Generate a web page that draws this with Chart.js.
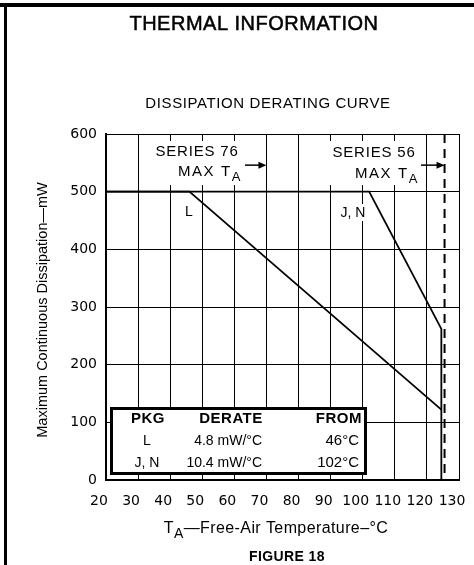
<!DOCTYPE html>
<html>
<head>
<meta charset="utf-8">
<script src="https://cdn.jsdelivr.net/npm/chart.js@4.4.1/dist/chart.umd.min.js"></script>
<style>
  body { margin: 0; background: #fff; }
  #wrap { width: 474px; height: 565px; }
</style>
</head>
<body>
<div id="wrap"><canvas id="chart" width="474" height="565"></canvas></div>
<script>
// derating curves, temperature in degC, power in mW
const lTemp = [20, 46, 124.5];
const lPower = [500, 500, 122];
const jnTemp = [20, 102, 124.5, 124.5];
const jnPower = [500, 500, 262, 0];
const series56Max = [125.5, 125.5];
const series56Power = [600, 0];

const pkgCol = ['L', 'J, N'];
const derateCol = ['4.8 mW/°C', '10.4 mW/°C'];
const fromCol = ['46°C', '102°C'];

const toPoints = (xs, ys) => xs.map((x, i) => ({ x: x, y: ys[i] }));

const FONT = '"Liberation Sans", Arial, sans-serif';
const NUMFONT = '"DejaVu Sans", sans-serif';

// text with a subscript "A" (T sub A)
function subText(ctx, parts, x, y, size, align) {
  let w = 0;
  parts.forEach(p => {
    ctx.font = (p.sub ? Math.round(size * 0.85) : size) + 'px ' + FONT;
    w += ctx.measureText(p.t).width;
  });
  let cx = align === 'center' ? x - w / 2 : (align === 'right' ? x - w : x);
  ctx.textAlign = 'left';
  parts.forEach(p => {
    ctx.font = (p.sub ? Math.round(size * 0.85) : size) + 'px ' + FONT;
    ctx.fillText(p.t, cx, p.sub ? y + size * 0.35 : y);
    cx += ctx.measureText(p.t).width;
  });
}

function arrow(ctx, x1, x2, y) {
  ctx.beginPath();
  ctx.moveTo(x1, y);
  ctx.lineTo(x2 - 6, y);
  ctx.lineWidth = 1.5;
  ctx.stroke();
  ctx.beginPath();
  ctx.moveTo(x2, y);
  ctx.lineTo(x2 - 8, y - 3.5);
  ctx.lineTo(x2 - 8, y + 3.5);
  ctx.closePath();
  ctx.fill();
}

const sheetPlugin = {
  id: 'sheet',
  beforeDatasetsDraw(chart) {
    const ctx = chart.ctx;
    ctx.save();
    ctx.fillStyle = '#fff';
    ctx.fillRect(150, 141, 94, 44);
    ctx.fillRect(326, 141, 94, 44);
    ctx.fillRect(183, 203, 12, 17);
    ctx.fillRect(336, 204, 34, 17);
    ctx.restore();
  },
  afterDraw(chart) {
    const ctx = chart.ctx;
    const xs = chart.scales.x, ys = chart.scales.y;
    ctx.save();
    ctx.fillStyle = '#000';
    ctx.strokeStyle = '#000';

    // page frame
    ctx.fillRect(0, 3, 474, 4);
    ctx.fillRect(4, 4, 3, 561);

    ctx.textBaseline = 'middle';
    ctx.textAlign = 'center';
    ctx.lineWidth = 0.5;
    ctx.font = '20px ' + FONT;
    ctx.letterSpacing = '0.5px';
    ctx.fillText('THERMAL INFORMATION', 254, 24);
    ctx.strokeText('THERMAL INFORMATION', 254, 24);
    ctx.font = '15px ' + FONT;
    ctx.letterSpacing = '0.6px';
    ctx.fillText('DISSIPATION DERATING CURVE', 268, 104);
    ctx.letterSpacing = '0px';

    // y axis title
    ctx.save();
    ctx.translate(43, 310);
    ctx.rotate(-Math.PI / 2);
    ctx.font = '14.5px ' + FONT;
    ctx.fillText('Maximum Continuous Dissipation\u2014mW', 0, 0);
    ctx.restore();

    // x axis title
    ctx.letterSpacing = '0.4px';
    subText(ctx, [{ t: 'T' }, { t: 'A', sub: true }, { t: '\u2014Free-Air Temperature\u2013°C' }], 276, 529, 16, 'center');
    ctx.textAlign = 'center';
    ctx.font = 'bold 14px ' + FONT;
    ctx.fillText('FIGURE 18', 287, 557);

    // series notes
    const ay = ys.getPixelForValue(546);
    ctx.letterSpacing = '0.8px';
    ctx.textAlign = 'center';
    ctx.font = '15px ' + FONT;
    ctx.fillText('SERIES 76', 197, 152);
    ctx.fillText('SERIES 56', 374, 153);
    ctx.letterSpacing = '1.6px';
    subText(ctx, [{ t: 'MAX T' }, { t: 'A', sub: true }], 242, 172, 15, 'right');
    subText(ctx, [{ t: 'MAX T' }, { t: 'A', sub: true }], 419, 174, 15, 'right');
    arrow(ctx, 245, xs.getPixelForValue(70), ay);
    arrow(ctx, 421, xs.getPixelForValue(series56Max[0]), ay);
    ctx.letterSpacing = '0px';

    ctx.textAlign = 'center';
    ctx.font = '14px ' + FONT;
    ctx.fillText('L', 189, 212);
    ctx.fillText('J, N', 353, 213);

    // derating table
    ctx.fillStyle = '#fff';
    ctx.fillRect(110, 407, 257, 68);
    ctx.lineWidth = 3;
    ctx.strokeRect(111.5, 408.5, 254, 65);
    ctx.fillStyle = '#000';
    ctx.font = 'bold 15px ' + FONT;
    ctx.letterSpacing = '0.5px';
    ctx.textAlign = 'center';
    ctx.fillText('PKG', 148, 419);
    ctx.fillText('DERATE', 231, 419);
    ctx.textAlign = 'right';
    ctx.fillText('FROM', 362, 419);
    ctx.letterSpacing = '0px';
    ctx.font = '14px ' + FONT;
    pkgCol.forEach((p, i) => {
      const y = 441 + i * 22;
      ctx.textAlign = 'center';
      ctx.fillText(p, 147, y);
      ctx.textAlign = 'right';
      ctx.fillText(derateCol[i], 262, y);
      ctx.font = '15px ' + FONT;
      ctx.fillText(fromCol[i], 359, y);
      ctx.font = '14px ' + FONT;
    });
    ctx.restore();
  }
};

const myChart = new Chart(document.getElementById('chart').getContext('2d'), {
  type: 'scatter',
  data: {
    datasets: [{
      data: toPoints(lTemp, lPower),
      showLine: true,
      borderColor: '#000',
      borderWidth: 1.8,
      pointRadius: 0
    }, {
      data: toPoints(jnTemp, jnPower),
      showLine: true,
      borderColor: '#000',
      borderWidth: 1.8,
      pointRadius: 0
    }, {
      data: toPoints(series56Max, series56Power),
      showLine: true,
      borderColor: '#000',
      borderWidth: 2,
      borderDash: [9, 6],
      pointRadius: 0
    }]
  },
  options: {
    responsive: false,
    animation: false,
    layout: { padding: { top: 134, right: 15, left: 0, bottom: 0 } },
    plugins: { legend: { display: false }, tooltip: { enabled: false } },
    scales: {
      x: {
        type: 'linear',
        min: 20,
        max: 130,
        afterFit: (scale) => { scale.height = 85; scale.paddingLeft = 0; scale.paddingRight = 0; },
        ticks: { stepSize: 10, color: '#000', font: { family: NUMFONT, size: 14 }, padding: 13, labelOffset: -7, maxRotation: 0, autoSkip: false },
        grid: { color: '#000', lineWidth: 1, drawTicks: false },
        border: { color: '#000', width: 2 }
      },
      y: {
        min: 0,
        max: 600,
        afterFit: (scale) => { scale.width = 106; scale.paddingTop = 0; scale.paddingBottom = 0; },
        ticks: { stepSize: 100, color: '#000', font: { family: NUMFONT, size: 14 }, padding: 9 },
        grid: { color: '#000', lineWidth: 1, drawTicks: false },
        border: { color: '#000', width: 2 }
      }
    }
  },
  plugins: [sheetPlugin]
});
</script>
</body>
</html>
